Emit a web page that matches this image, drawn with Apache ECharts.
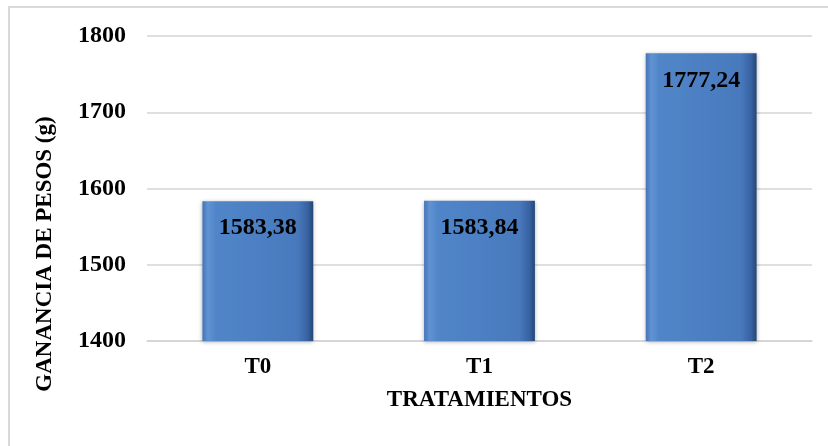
<!DOCTYPE html>
<html>
<head>
<meta charset="utf-8">
<script src="https://cdn.jsdelivr.net/npm/echarts@6/dist/echarts.min.js"></script>
<style>
    html, body { margin: 0; padding: 0; background: #fff; }
    #barChart { width: 828px; height: 446px; }
</style>
</head>
<body>
<div id="barChart"></div>
<script>
    const categories = ['T0', 'T1', 'T2'];
    const values = [1583.38, 1583.84, 1777.24];
    const yTicks = [1400, 1500, 1600, 1700, 1800];

    const font = '"Liberation Serif", "Times New Roman", serif';

    const barColor = new echarts.graphic.LinearGradient(0, 0, 1, 0, [
        { offset: 0, color: '#4574b5' },
        { offset: 0.05, color: '#6193d3' },
        { offset: 0.12, color: '#5086c9' },
        { offset: 0.86, color: '#4879bd' },
        { offset: 0.95, color: '#3862a1' },
        { offset: 1, color: '#234676' }
    ]);

    const option = {
        animation: false,
        backgroundColor: '#fff',
        grid: {
            left: 147,
            right: 16,
            top: 36,
            bottom: 105
        },
        graphic: [{
            type: 'rect',
            shape: { x: 9, y: 7, width: 840, height: 460 },
            style: { fill: 'none', stroke: '#d9d9d9', lineWidth: 2 },
            silent: true
        }, {
            type: 'text',
            x: 45,
            y: 254,
            rotation: Math.PI / 2,
            style: {
                text: 'GANANCIA DE PESOS (g)',
                font: 'bold 23px ' + font,
                fill: '#000',
                align: 'center',
                verticalAlign: 'middle'
            }
        }],
        xAxis: {
            type: 'category',
            data: categories,
            name: 'TRATAMIENTOS',
            nameLocation: 'middle',
            nameGap: 48,
            nameTextStyle: {
                fontFamily: font,
                fontWeight: 'bold',
                fontSize: 23,
                color: '#000'
            },
            axisLine: {
                show: true,
                lineStyle: { color: '#d4d4d4', width: 1.5 }
            },
            axisTick: { show: false },
            axisLabel: {
                margin: 15,
                fontFamily: font,
                fontWeight: 'bold',
                fontSize: 23,
                color: '#000'
            }
        },
        yAxis: {
            type: 'value',
            min: yTicks[0],
            max: yTicks[yTicks.length - 1],
            interval: 100,
            axisLine: { show: false },
            axisTick: { show: false },
            splitLine: {
                show: true,
                lineStyle: { color: '#d4d4d4', width: 1.5 }
            },
            axisLabel: {
                margin: 21,
                fontFamily: font,
                fontWeight: 'bold',
                fontSize: 24,
                color: '#000',
                formatter: v => String(v)
            }
        },
        series: [{
            type: 'bar',
            data: values,
            barWidth: '50%',
            itemStyle: {
                color: barColor,
                shadowColor: 'rgba(0,0,0,0.3)',
                shadowBlur: 4,
                shadowOffsetY: 1
            },
            label: {
                show: true,
                position: 'insideTop',
                distance: 15,
                fontFamily: font,
                fontWeight: 'bold',
                fontSize: 24,
                color: '#000',
                formatter: p => p.value.toFixed(2).replace('.', ',')
            }
        }]
    };

    const myChart = echarts.init(document.getElementById('barChart'));
    myChart.setOption(option);
</script>
</body>
</html>
